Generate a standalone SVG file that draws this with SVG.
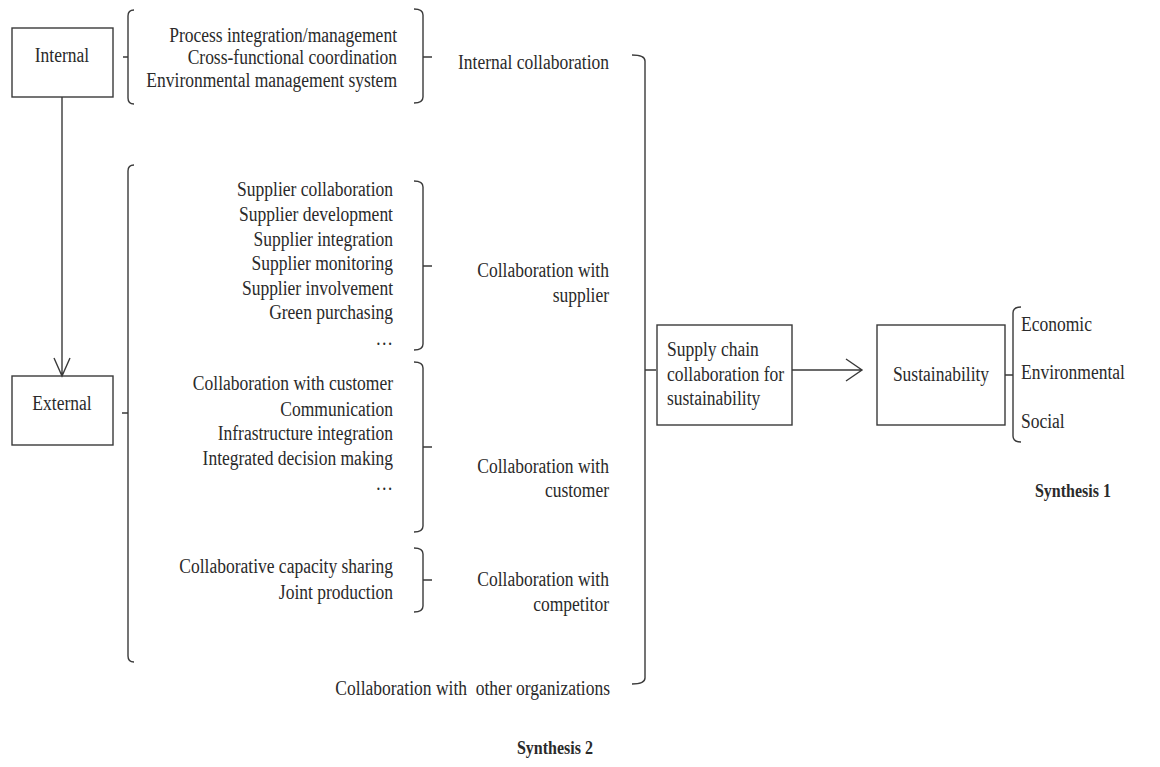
<svg xmlns="http://www.w3.org/2000/svg" width="1160" height="767" viewBox="0 0 1160 767">
<style>
text{font-family:"Liberation Serif","Times New Roman",serif;font-size:20px;fill:#2a2a2a}
.r{text-anchor:end}
.c{text-anchor:middle}
.b{font-weight:bold;font-size:18.3px}
.box{fill:#fff;stroke:#3a3a3a;stroke-width:1.4}
.ln{fill:none;stroke:#3a3a3a;stroke-width:1.4}
</style>
<rect width="1160" height="767" fill="#fff"/>
<g id="internal">
<rect class="box" x="12" y="28" width="101" height="69"/>
<text class="c" transform="scale(0.875,1)" x="70.857" y="62">Internal</text>
</g>
<g id="external">
<rect class="box" x="12" y="376" width="101" height="69"/>
<text class="c" transform="scale(0.875,1)" x="70.857" y="410">External</text>
</g>
<g id="internal-items" transform="scale(0.875,1)">
<text class="r" x="453.714" y="42">Process integration/management</text>
<text class="r" x="453.714" y="64">Cross-functional coordination</text>
<text class="r" x="453.714" y="87">Environmental management system</text>
</g>
<g id="internal-collaboration" transform="scale(0.875,1)">
<text x="523.429" y="69">Internal collaboration</text>
</g>
<g id="supplier-items" transform="scale(0.875,1)">
<text class="r" x="449.143" y="196">Supplier collaboration</text>
<text class="r" x="449.143" y="221">Supplier development</text>
<text class="r" x="449.143" y="246">Supplier integration</text>
<text class="r" x="449.143" y="270">Supplier monitoring</text>
<text class="r" x="449.143" y="295">Supplier involvement</text>
<text class="r" x="449.143" y="319">Green purchasing</text>
<text class="r" x="449.143" y="345">…</text>
</g>
<g id="collab-supplier" transform="scale(0.875,1)">
<text class="r" x="696" y="277">Collaboration with</text>
<text class="r" x="696" y="302">supplier</text>
</g>
<g id="customer-items" transform="scale(0.875,1)">
<text class="r" x="449.143" y="390">Collaboration with customer</text>
<text class="r" x="449.143" y="416">Communication</text>
<text class="r" x="449.143" y="440">Infrastructure integration</text>
<text class="r" x="449.143" y="465">Integrated decision making</text>
<text class="r" x="449.143" y="490">…</text>
</g>
<g id="collab-customer" transform="scale(0.875,1)">
<text class="r" x="696" y="473">Collaboration with</text>
<text class="r" x="696" y="497">customer</text>
</g>
<g id="competitor-items" transform="scale(0.875,1)">
<text class="r" x="449.143" y="573">Collaborative capacity sharing</text>
<text class="r" x="449.143" y="599">Joint production</text>
</g>
<g id="collab-competitor" transform="scale(0.875,1)">
<text class="r" x="696" y="586">Collaboration with</text>
<text class="r" x="696" y="611">competitor</text>
</g>
<g id="collab-other" transform="scale(0.875,1)">
<text class="r" x="697.143" y="695">Collaboration with&#160; other organizations</text>
</g>
<g id="scc">
<rect class="box" x="657" y="325" width="135" height="100"/>
<g transform="scale(0.875,1)">
<text x="762.286" y="356">Supply chain</text>
<text x="762.286" y="381">collaboration for</text>
<text x="762.286" y="405">sustainability</text>
</g>
</g>
<g id="sustainability">
<rect class="box" x="877" y="325" width="128" height="100"/>
<text class="c" transform="scale(0.875,1)" x="1075.429" y="381">Sustainability</text>
</g>
<g id="dimensions" transform="scale(0.875,1)">
<text x="1166.857" y="331">Economic</text>
<text x="1166.857" y="379">Environmental</text>
<text x="1166.857" y="428">Social</text>
</g>
<g id="captions" transform="scale(0.875,1)">
<text class="b c" x="1226.286" y="497">Synthesis 1</text>
<text class="b c" x="634.286" y="754">Synthesis 2</text>
</g>
<g id="connectors">
<path class="ln" d="M62,97 V376 M54,358 L62,376 L70,358"/>
<path class="ln" d="M792,370 H862 M846,359 L862,370 L846,381"/>
<path class="ln" d="M134,10 Q128,10 128,16 V98 Q128,104 134,104 M128,57 H123"/>
<path class="ln" d="M414,9 Q423,9 423,15 V97 Q423,103 414,103 M423,57 H432"/>
<path class="ln" d="M134,165 Q128,165 128,171 V656 Q128,662 134,662 M128,413 H122"/>
<path class="ln" d="M414,181 Q423,181 423,187 V344 Q423,350 414,350 M423,266 H432"/>
<path class="ln" d="M414,362 Q423,362 423,368 V526 Q423,532 414,532 M423,447 H432"/>
<path class="ln" d="M414,548 Q423,548 423,554 V606 Q423,612 414,612 M423,580 H432"/>
<path class="ln" d="M632,55 Q645,55 645,61 V678 Q645,684 632,684 M645,370 H656"/>
<path class="ln" d="M1021,307 Q1013,307 1013,313 V436 Q1013,442 1021,442 M1013,375 H1005"/>
</g>
</svg>
